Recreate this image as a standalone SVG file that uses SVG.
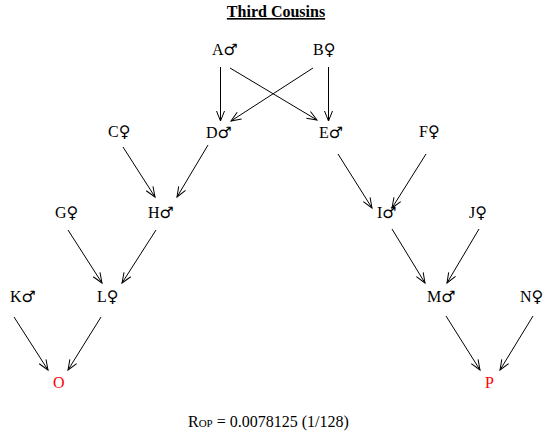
<svg xmlns="http://www.w3.org/2000/svg" width="551" height="436" viewBox="0 0 551 436">
<style>
text{font-family:"Liberation Serif","DejaVu Serif",serif;font-size:16px;fill:#000}
.sym{font-family:"DejaVu Sans",sans-serif;font-size:16px}
.red{fill:#f00}
.title{font-weight:bold;text-decoration:underline}
.sub{font-size:11px}
#connectors line{stroke:#000;stroke-width:1;marker-end:url(#arr)}
</style>
<defs>
<marker id="arr" markerUnits="userSpaceOnUse" markerWidth="14" markerHeight="12" refX="0" refY="0" viewBox="-12 -6 14 12" orient="auto" overflow="visible">
<path d="M-10,-4 L0,0 L-10,4" fill="none" stroke="#000" stroke-width="1"/>
</marker>
</defs>
<rect width="551" height="436" fill="#fff"/>
<text class="title" x="276" y="17" text-anchor="middle">Third Cousins</text>
<g id="connectors">
<line x1="220.5" y1="67" x2="220.5" y2="121"/>
<line x1="230" y1="68" x2="317" y2="120"/>
<line x1="313" y1="68" x2="231" y2="121"/>
<line x1="328.5" y1="67" x2="328.5" y2="121"/>
<line x1="123" y1="147" x2="155" y2="197"/>
<line x1="208" y1="145" x2="177" y2="197"/>
<line x1="338" y1="154" x2="372" y2="208"/>
<line x1="426" y1="154" x2="392" y2="208"/>
<line x1="68" y1="230" x2="102" y2="283"/>
<line x1="156" y1="230" x2="122" y2="283"/>
<line x1="392" y1="229" x2="425" y2="283"/>
<line x1="479" y1="229" x2="447" y2="283"/>
<line x1="14" y1="317" x2="48" y2="370"/>
<line x1="101" y1="317" x2="68" y2="370"/>
<line x1="446" y1="316" x2="480" y2="370"/>
<line x1="533" y1="316" x2="500" y2="370"/>
</g>
<g id="A"><text x="212" y="55">A<tspan class="sym">♂</tspan></text></g>
<g id="B"><text x="313" y="55">B<tspan class="sym">♀</tspan></text></g>
<g id="C"><text x="108" y="137">C<tspan class="sym">♀</tspan></text></g>
<g id="D"><text x="206" y="138">D<tspan class="sym">♂</tspan></text></g>
<g id="E"><text x="319" y="138">E<tspan class="sym">♂</tspan></text></g>
<g id="F"><text x="419" y="137">F<tspan class="sym">♀</tspan></text></g>
<g id="G"><text x="55" y="218">G<tspan class="sym">♀</tspan></text></g>
<g id="H"><text x="148" y="218">H<tspan class="sym">♂</tspan></text></g>
<g id="I"><text x="377" y="218">I<tspan class="sym">♂</tspan></text></g>
<g id="J"><text x="469" y="218">J<tspan class="sym">♀</tspan></text></g>
<g id="K"><text x="10" y="302">K<tspan class="sym">♂</tspan></text></g>
<g id="L"><text x="97" y="302">L<tspan class="sym">♀</tspan></text></g>
<g id="M"><text x="427" y="302">M<tspan class="sym">♂</tspan></text></g>
<g id="N"><text x="520" y="302">N<tspan class="sym">♀</tspan></text></g>
<g id="O"><text class="red" x="53" y="388">O</text></g>
<g id="P"><text class="red" x="485" y="388">P</text></g>
<text x="188" y="427">R<tspan class="sub">OP</tspan> = 0.0078125 (1/128)</text>
</svg>
